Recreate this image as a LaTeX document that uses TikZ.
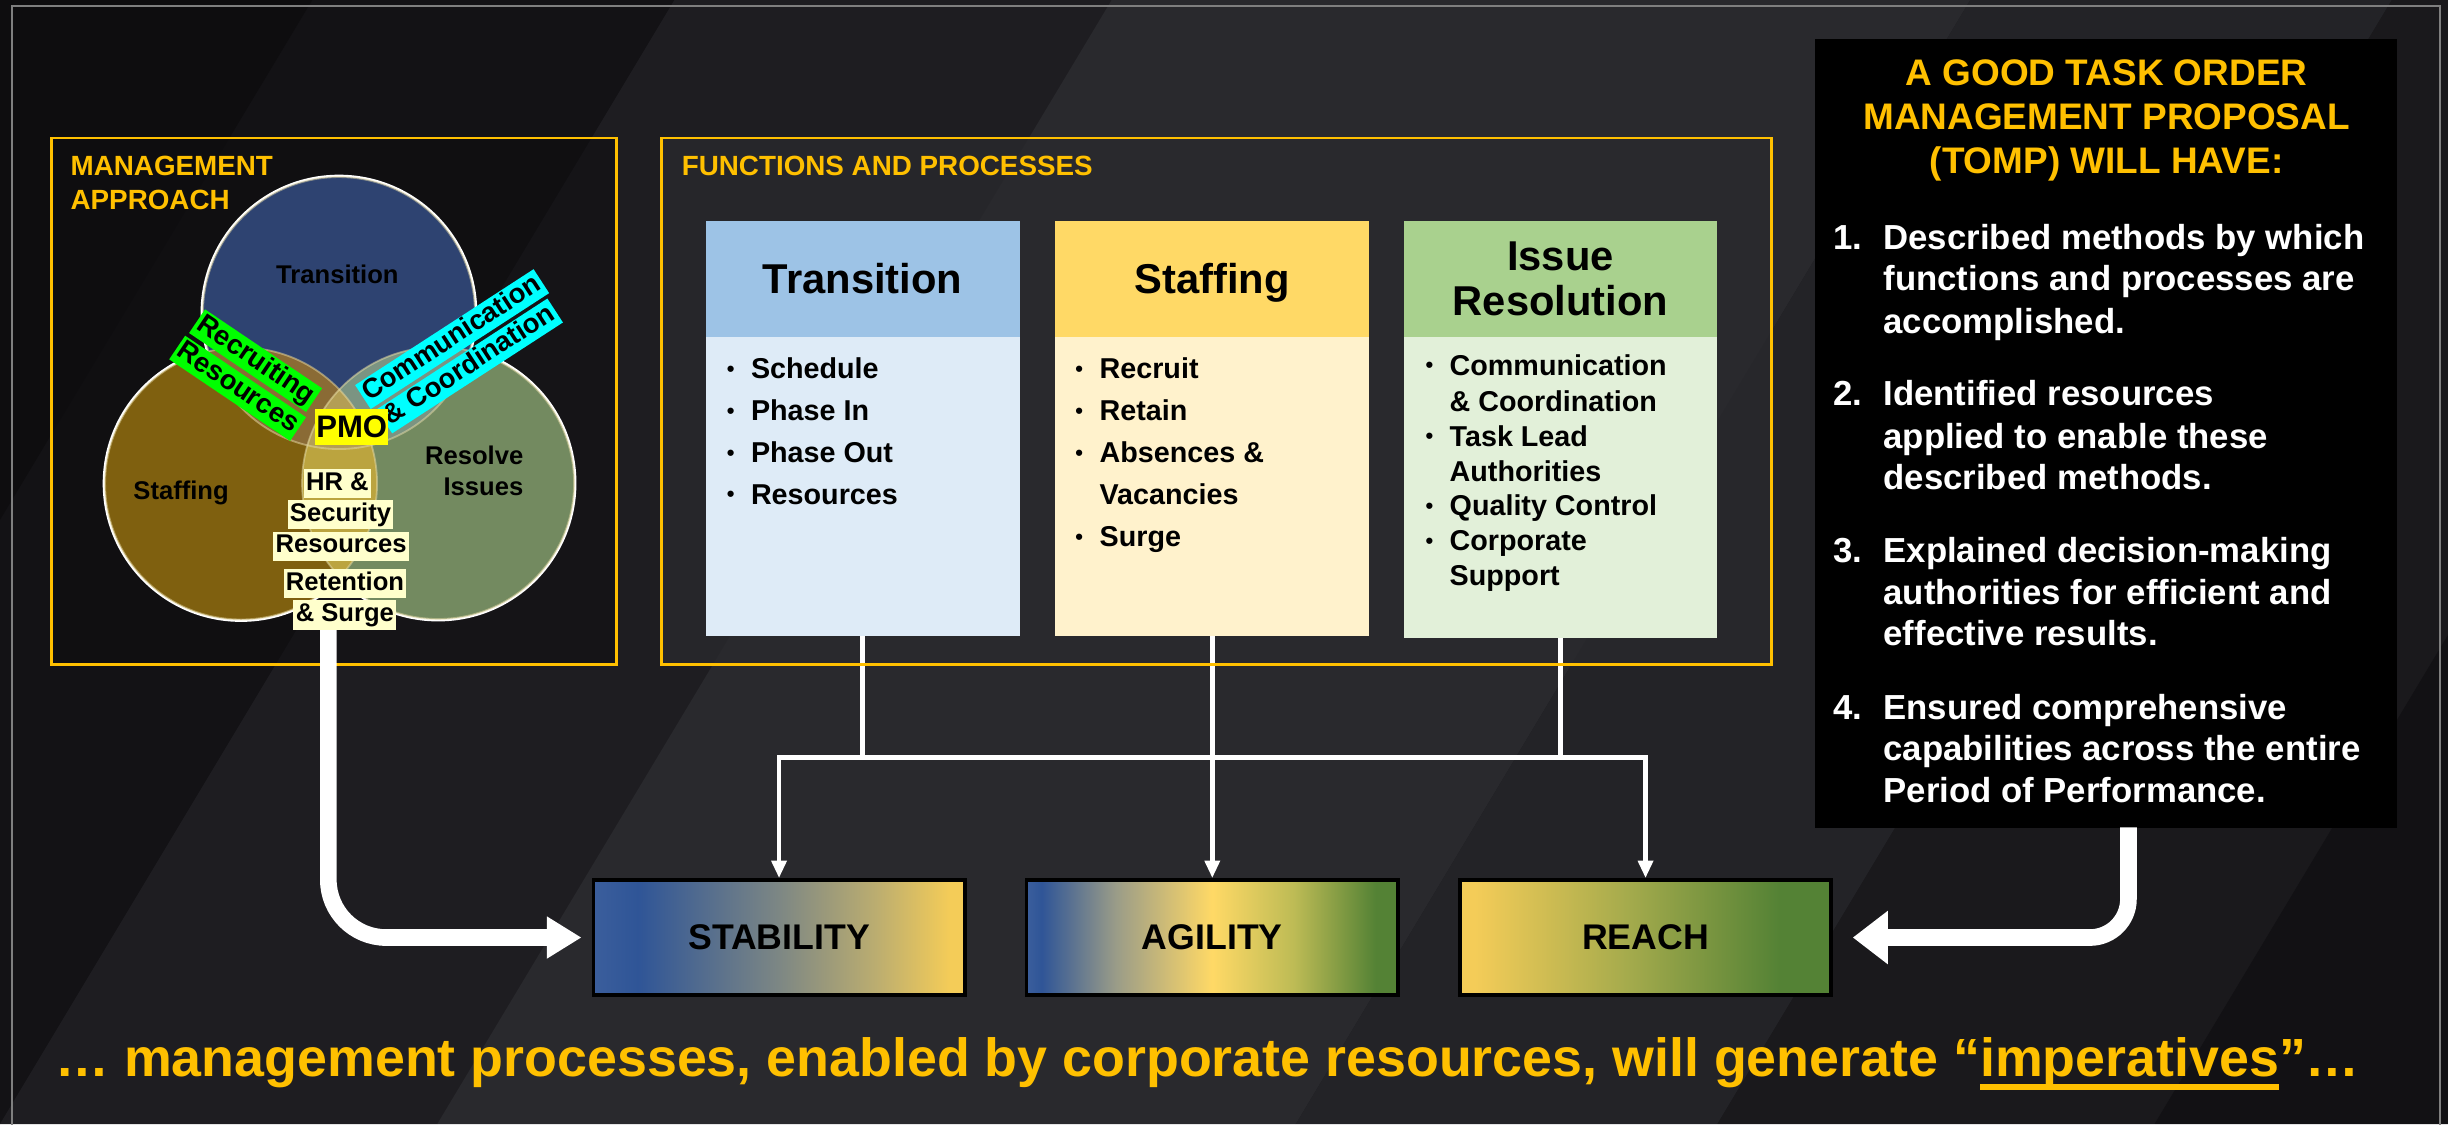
\documentclass[tikz,border=0pt]{standalone}
\usepackage{fontspec}
\setmainfont{Liberation Sans}
\usetikzlibrary{arrows.meta}
\definecolor{cOrg}{HTML}{FFC000}
\definecolor{cBg}{HTML}{1B1A1E}
\definecolor{cBgA}{HTML}{29292D}
\definecolor{cBgB}{HTML}{232327}
\definecolor{cBgC}{HTML}{1A191C}
\definecolor{cBgD}{HTML}{121114}
\definecolor{cBgE}{HTML}{1E1D21}
\definecolor{cBgF}{HTML}{131215}
\definecolor{cBgG}{HTML}{0E0D0F}
\definecolor{cFrame}{HTML}{7F7F7F}
\definecolor{cTrHead}{HTML}{9DC3E6}
\definecolor{cTrBody}{HTML}{DEEBF7}
\definecolor{cStHead}{HTML}{FFD966}
\definecolor{cStBody}{HTML}{FFF2CC}
\definecolor{cIsHead}{HTML}{A9D18E}
\definecolor{cIsBody}{HTML}{E2F0D9}
\definecolor{cVT}{HTML}{2E4371}
\definecolor{cVS}{HTML}{7F600F}
\definecolor{cVR}{HTML}{738A60}
\definecolor{cVTS}{HTML}{8A6B35}
\definecolor{cVTR}{HTML}{7B9482}
\definecolor{cVSR}{HTML}{BBA43F}
\definecolor{cVC}{HTML}{B39E55}
\definecolor{cVLine}{HTML}{E8DCA8}
\definecolor{cHR}{HTML}{FFFFCC}
\definecolor{cGrn}{HTML}{00FF00}
\definecolor{cCyn}{HTML}{00FFFF}
\definecolor{cPMO}{HTML}{FFFF00}
\definecolor{cBlueL}{HTML}{3B5E9C}
\definecolor{cBlue}{HTML}{2F5597}
\definecolor{cStabMid}{HTML}{7D8784}
\definecolor{cStabTan}{HTML}{BBAD70}
\definecolor{cYel}{HTML}{F4CC58}
\definecolor{cYelB}{HTML}{FFD966}
\definecolor{cAgGray}{HTML}{9A9C88}
\definecolor{cOlive}{HTML}{BDBB55}
\definecolor{cGreen}{HTML}{548235}
\definecolor{cReMid}{HTML}{A3AA4C}
\pgfdeclarehorizontalshading{shStab}{100bp}{color(0bp)=(cBlueL); color(25bp)=(cBlueL); color(31bp)=(cBlue); color(50bp)=(cStabMid); color(63bp)=(cStabTan); color(73bp)=(cYel); color(100bp)=(cYel)}
\pgfdeclarehorizontalshading{shAgil}{100bp}{color(0bp)=(cBlueL); color(25bp)=(cBlueL); color(27bp)=(cBlue); color(37bp)=(cAgGray); color(50bp)=(cYelB); color(61bp)=(cOlive); color(72bp)=(cGreen); color(100bp)=(cGreen)}
\pgfdeclarehorizontalshading{shReach}{100bp}{color(0bp)=(cYel); color(27bp)=(cYel); color(48bp)=(cReMid); color(68bp)=(cGreen); color(100bp)=(cGreen)}
\newcommand\bulit{\llap{\raisebox{1.2pt}{\fontsize{12}{12}\selectfont\textbullet}\hspace{9pt}}}
\newcommand\myul[1]{\setbox0\hbox{#1}\rlap{\rule[-7.2pt]{\wd0}{3.1pt}}\box0}
\begin{document}
\begin{tikzpicture}[x=0.03cm,y=-0.03cm,
  orgtitle/.style={text=cOrg, font=\bfseries\fontsize{15.2}{18.7}\selectfont, inner sep=0pt, align=left, anchor=north west},
  vlab/.style={font=\bfseries\fontsize{14}{17}\selectfont, text=black, inner sep=0pt},
  hrlab/.style={font=\bfseries\fontsize{14}{17}\selectfont, text=black, fill=cHR, inner xsep=1.3pt, inner ysep=0pt, text height=11.7pt, text depth=4.2pt},
  rotlab/.style={font=\bfseries\fontsize{15}{17}\selectfont, text=black, inner xsep=1.5pt, inner ysep=0pt, text height=11.7pt, text depth=3.9pt},
  colhead/.style={minimum width=171.6pt, minimum height=63.2pt, inner sep=0pt, font=\bfseries\fontsize{22.8}{24.6}\selectfont, align=center, text=black},
  onehead/.style={colhead, text height=16.4pt, text depth=0pt},
  colbody/.style={minimum width=171.6pt, inner sep=0pt},
  itm/.style={font=\bfseries\fontsize{15.7}{19}\selectfont, text=black, inner sep=0pt, anchor=base west},
  tomptitle/.style={text=cOrg, font=\bfseries\fontsize{20.2}{24}\selectfont, inner sep=0pt, anchor=base},
  tompitem/.style={text=white, font=\bfseries\fontsize{19}{23}\selectfont, inner sep=0pt, anchor=base west},
  impbox/.style={draw=black, line width=2pt, minimum width=203pt, minimum height=63pt, inner sep=0pt, font=\bfseries\fontsize{19.5}{22}\selectfont, text=black},
  wline/.style={white, line width=2.6pt},
  orgframe/.style={draw=cOrg, line width=1.5pt},
  bigarrow/.style={white, line width=9.1pt}
]
\useasboundingbox (0,0) rectangle (1568,720);
% ---------- background
\fill[cBg] (0,0) rectangle (1568,720);
\fill[cBgF] (0,0) -- (432,0) -- (0,720) -- cycle;
\fill[cBgG] (0,0) -- (200,0) -- (0,333) -- cycle;
\fill[cBgE] (0,720) -- (280,720) -- (712,0) -- (432,0) -- cycle;
\fill[cBgA] (280,720) -- (830,720) -- (1262,0) -- (712,0) -- cycle;
\fill[cBgB] (830,720) -- (1100,720) -- (1532,0) -- (1262,0) -- cycle;
\fill[cBgC] (1100,720) -- (1380,720) -- (1812,0) -- (1532,0) -- cycle;
\fill[cBgD] (1380,720) -- (1700,720) -- (2132,0) -- (1812,0) -- cycle;
\draw[cFrame, line width=1.1pt] (7.5,730) -- (7.5,3.8) -- (1563,3.8) -- (1563,730);
% ---------- panels
\node[fill=cBgG, fill opacity=0.55, minimum width=308.5pt, minimum height=287.4pt, inner sep=0pt] (mgmt) at (213.7,257) {};
\node[fill=cBgA, fill opacity=0.8, minimum width=606.2pt, minimum height=287.4pt, inner sep=0pt] (func) at (779.1,257) {};
\node[orgtitle] (mgmttitle) at (45,99.8) {MANAGEMENT\\APPROACH};
\node[orgtitle] (functitle) at (436.5,99.5) {FUNCTIONS AND PROCESSES};
% ---------- Venn
\def\cirT{(217.1,200.5) circle[radius=87.1]}
\def\cirS{(154.4,309.7) circle[radius=87.1]}
\def\cirR{(280.6,309.4) circle[radius=87.1]}
\draw[white, line width=2.6pt] \cirT;
\draw[white, line width=2.6pt] \cirS;
\draw[white, line width=2.6pt] \cirR;
\fill[cVT] \cirT;
\fill[cVS] \cirS;
\fill[cVR] \cirR;
\begin{scope}\clip \cirT; \fill[cVTS] \cirS; \end{scope}
\begin{scope}\clip \cirT; \fill[cVTR] \cirR; \end{scope}
\begin{scope}\clip \cirS; \fill[cVSR] \cirR; \end{scope}
\begin{scope}\clip \cirT; \clip \cirS; \fill[cVC] \cirR; \end{scope}
\draw[cVLine, line width=1pt, opacity=0.5] \cirT;
\draw[cVLine, line width=1pt, opacity=0.5] \cirS;
\draw[cVLine, line width=1pt, opacity=0.5] \cirR;
\node[vlab] (vtrans) at (216.1,175.9) {Transition};
\node[vlab] (vstaff) at (116,316) {Staffing};
\node[vlab, align=right, anchor=east] (vresolve) at (335.4,301.6) {Resolve\\Issues};
\node[rotlab, fill=cGrn, rotate=-34] (recr1) at (163.7,231) {Recruiting};
\node[rotlab, fill=cGrn, rotate=-34] (recr2) at (152.2,248.7) {Resources};
\node[rotlab, fill=cCyn, rotate=33] (comm1) at (289.6,217.2) {Communication};
\node[rotlab, fill=cCyn, rotate=33] (comm2) at (300.9,234.4) {\& Coordination};
\node[font=\bfseries\fontsize{17}{19}\selectfont, text=black, fill=cPMO, minimum width=39.7pt, minimum height=19.6pt, inner sep=0pt] (pmo) at (225.3,273.5) {PMO};
\node[hrlab] (hr1) at (216.1,309.7) {HR \&};
\node[hrlab] (hr2) at (218.1,329.8) {Security};
\node[hrlab] (hr3) at (218.5,349.8) {Resources};
% ---------- columns
\node[onehead, fill=cTrHead] (trhead) at (552.5,178.6) {Transition};
\node[colbody, fill=cTrBody, minimum height=163.5pt] (trbody) at (552.5,311.4) {};
\node[onehead, fill=cStHead] (sthead) at (776.5,178.6) {Staffing};
\node[colbody, fill=cStBody, minimum height=163.5pt] (stbody) at (776.5,311.4) {};
\node[colhead, fill=cIsHead] (ishead) at (999.5,178.6) {Issue\\Resolution};
\node[colbody, fill=cIsBody, minimum height=164.6pt] (isbody) at (999.5,312.05) {};
\node[itm] (t1) at (480.8,242.5) {\bulit Schedule};
\node[itm] (t2) at (480.8,269.3) {\bulit Phase In};
\node[itm] (t3) at (480.8,296.1) {\bulit Phase Out};
\node[itm] (t4) at (480.8,322.9) {\bulit Resources};
\node[itm] (s1) at (704.1,242.5) {\bulit Recruit};
\node[itm] (s2) at (704.1,269.3) {\bulit Retain};
\node[itm] (s3) at (704.1,296.1) {\bulit Absences \&};
\node[itm] (s4) at (704.1,322.9) {Vacancies};
\node[itm] (s5) at (704.1,350.2) {\bulit Surge};
\node[itm] (i1) at (928.3,240.2) {\bulit Communication};
\node[itm] (i2) at (928.3,263.3) {\& Coordination};
\node[itm] (i3) at (928.3,285.7) {\bulit Task Lead};
\node[itm] (i4) at (928.3,308.1) {Authorities};
\node[itm] (i5) at (928.3,330.5) {\bulit Quality Control};
\node[itm] (i6) at (928.3,352.7) {\bulit Corporate};
\node[itm] (i7) at (928.3,374.7) {Support};
% ---------- imperative boxes
\node[impbox, shading=shStab] (stab) at (499,600.5) {STABILITY};
\node[impbox, shading=shAgil] (agil) at (776.5,600.5) {AGILITY};
\node[impbox, shading=shReach] (reach) at (1054,600.5) {REACH};
% ---------- connectors
\coordinate (busL) at (499,485.3);
\coordinate (busR) at (1054,485.3);
\draw[wline] (trbody.south) -- (trbody.south |- busL);
\draw[wline] (isbody.south) -- (isbody.south |- busL);
\draw[wline, {Triangle[width=8pt,length=9.5pt]}-{Triangle[width=8pt,length=9.5pt]}] (stab.north) -- (busL) -- (busR) -- (reach.north);
\draw[wline, -{Triangle[width=8pt,length=9.5pt]}] (stbody.south) -- (agil.north);
% ---------- panel borders
\draw[orgframe] (mgmt.south west) rectangle (mgmt.north east);
\draw[orgframe] (func.south west) rectangle (func.north east);
% ---------- left big arrow
\coordinate (lstart) at (210.3,392);
\draw[bigarrow, rounded corners=31.6pt, -{Triangle[width=21.8pt,length=19pt]}, shorten >=5.5pt] (lstart) |- (stab.west);
\node[hrlab] (ret1) at (221,373.8) {Retention};
\node[hrlab] (ret2) at (220.9,393.9) {\& Surge};
% ---------- TOMP box
\node[fill=black, minimum width=318.2pt, minimum height=431.2pt, inner sep=0pt] (tomp) at (1349,277.8) {};
\node[tomptitle] (tt1) at (1349.3,55) {A GOOD TASK ORDER};
\node[tomptitle] (tt2) at (1349.3,83.1) {MANAGEMENT PROPOSAL};
\node[tomptitle] (tt3) at (1349.3,111.2) {(TOMP) WILL HAVE:};
\foreach \yy/\nn in {159.8/1,260/2,360.6/3,460.9/4}
  \node[tompitem] (tn\nn) at (1174,\yy) {\nn.};
\foreach \yy/\txt [count=\i] in {159.8/{Described methods by which},186.3/{functions and processes are},213.4/{accomplished.},260/{Identified resources},287.2/{applied to enable these},313.7/{described methods.},360.6/{Explained decision-making},387.1/{authorities for efficient and},413.6/{effective results.},460.9/{Ensured comprehensive},487.4/{capabilities across the entire},513.8/{Period of Performance.}}
  \node[tompitem] (tl\i) at (1206.2,\yy) {\txt};
\coordinate (rstart) at (1363.3,530);
\draw[bigarrow, rounded corners=21pt, -{Triangle[width=28pt,length=19.2pt]}, shorten >=10.8pt] (rstart) |- (reach.east);
% ---------- bottom line
\node[text=cOrg, font=\bfseries\fontsize{29.4}{33}\selectfont, inner sep=0pt, anchor=base] (bottomline) at (773.5,689.6) {… management processes, enabled by corporate resources, will generate “\myul{imperatives}”…};
\end{tikzpicture}
\end{document}
